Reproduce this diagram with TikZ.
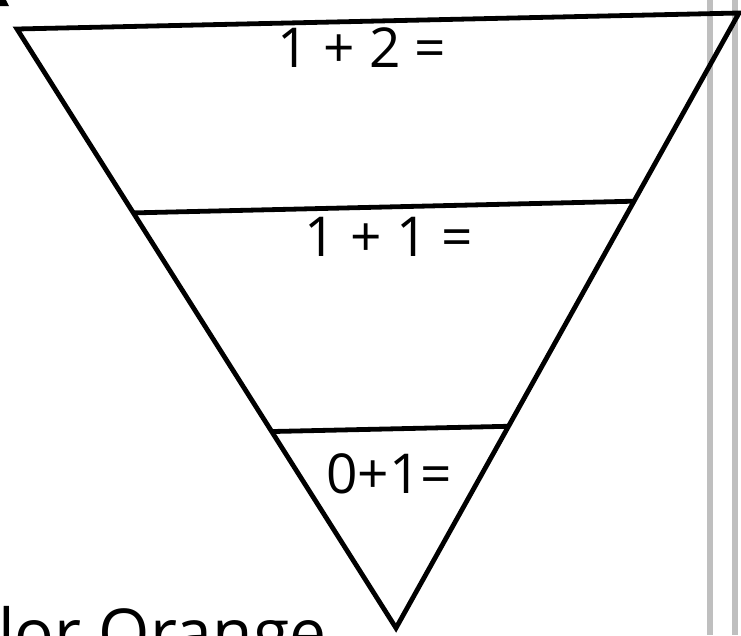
\documentclass[tikz,border=0pt]{standalone}
\usepackage{fontspec}
\setmainfont{Open Sans}
\usetikzlibrary{calc}
\definecolor{bargray}{HTML}{BFBFBF}
\tikzset{
  sum/.style={font=\fontsize{55}{62}\selectfont, inner sep=0pt},
  edge/.style={line width=4.8pt, line join=miter}
}
\begin{document}
\begin{tikzpicture}[x=1pt,y=-1pt]
  \useasboundingbox (0,0) rectangle (741,635);
  \clip (0,0) rectangle (741,635);
  % gray margin bars
  \foreach \x in {707,732}{\fill[bargray] (\x,0) rectangle (\x+6,635);}
  % cut-off glyph in the corner
  \fill (0,0) -- (6,0) -- (9,6) -- (0,6) -- cycle;
  \coordinate (tl) at (17,29);
  \coordinate (tr) at (739,13);
  \coordinate (bot) at (396,628);
  \coordinate (ml) at ($(tl)!0.307!(bot)$);
  \coordinate (mr) at ($(tr)!0.306!(bot)$);
  \coordinate (ll) at ($(tl)!0.672!(bot)$);
  \coordinate (lr) at ($(tr)!0.672!(bot)$);
  \draw[edge] (tl) -- (tr) -- (bot) -- cycle;
  \draw[edge] (ml) -- (mr);
  \draw[edge] (ll) -- (lr);
  \node[sum] (top) at (362,48) {1 + 2 =};
  \node[sum] (mid) at (389,237) {1 + 1 =};
  \node[sum] (low) at (389,474) {0+1=};
  \node[sum, font=\fontsize{66}{72}\selectfont, anchor=base west] (label) at (-2,656) {lor Orange};
\end{tikzpicture}
\end{document}
